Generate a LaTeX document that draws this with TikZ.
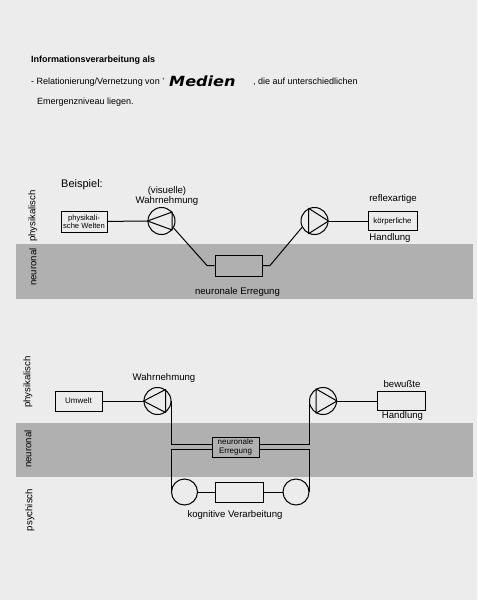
\documentclass[tikz,border=0pt]{standalone}
\usepackage{fontspec}
\setmainfont{Liberation Sans}
\newfontfamily\handfont{DejaVu Sans}
\usetikzlibrary{positioning}
\definecolor{paper}{RGB}{236,236,236}
\definecolor{bandgray}{RGB}{176,176,176}
\tikzset{
	wire/.style={line width=1pt},
	txt/.style={inner sep=0pt, font=\fontsize{9.6}{10.5}\selectfont},
	seite/.style={txt, rotate=90},
	kasten/.style={draw, line width=1pt, inner sep=0pt, minimum width=#1, minimum height=20pt, align=center},
	kasten/.default=47pt,
	amp/.style={draw, circle, line width=1pt, inner sep=0pt, minimum size=27pt},
	klein/.style={font=\fontsize{7.6}{8.2}\selectfont}
}
\def\dreieck(#1)(#2:#3){\draw[line width=1pt, line join=round] (#1.#2) -- (#1.#3) -- (#1.-#3) -- cycle;}

\begin{document}
\begin{tikzpicture}[x=1pt, y=-1pt]
			%%%%% START %%%%%
			\useasboundingbox (0,0) rectangle (477,600);
			\fill[paper] (0,0) rectangle (477,600);
			
			\node[txt, anchor=west, font=\bfseries\fontsize{9}{10}\selectfont] (titel) at (31,60) {Informationsverarbeitung als};
			\node[txt, anchor=west, font=\fontsize{9}{10}\selectfont] (zeile1) at (31,82) {- Relationierung/Vernetzung von '};
			\node[anchor=west, inner sep=0pt, font=\handfont\bfseries\itshape\fontsize{14}{14}\selectfont, xscale=1.15] (medien) at (169,81) {Medien};
			\node[txt, anchor=west, font=\fontsize{9}{10}\selectfont] (zeile1b) at (253,82) {, die auf unterschiedlichen};
			\node[txt, anchor=west, font=\fontsize{9}{10}\selectfont] (zeile2) at (37,102) {Emergenzniveau liegen.};
			
			% erstes Beispiel
			\fill[bandgray] (16,244) rectangle (473,299);
			\node[seite] (phys1) at (33,216) {physikalisch};
			\node[seite] (neur1) at (33,267) {neuronal};
			
			\node[txt, anchor=west, font=\fontsize{11}{12}\selectfont] (bsp) at (61,185) {Beispiel:};
			\node[txt, align=center] (wahr1) at (167,196) {(visuelle)\\Wahrnehmung};
			\node[kasten=46pt, minimum height=21pt, klein] (welt) at (84,221.5) {physikali-\\sche Welten};
			\node[amp] (c1) at (161.5,221) {};
			\node[amp] (c2) at (314.5,221) {};
			\node[kasten=49pt, minimum height=19pt, font=\fontsize{7.8}{8}\selectfont] (koerper) at (392.5,221) {körperliche};
			\node[txt] (reflex) at (393,199) {reflexartige};
			\node[txt] (hand1) at (390,238) {Handlung};
			\node[kasten=47pt, minimum height=21pt] (err1) at (238.5,265.5) {};
			\node[txt] (err1txt) at (237.5,292) {neuronale Erregung};
			\coordinate (k1) at (207,265.5);
			\coordinate (k2) at (270,265.5);
			
			\dreieck(c1)(180:40)
			\dreieck(c2)(0:115)
			\draw[wire] (welt) -- (c1);
			\draw[wire] (c1.-30) -- (k1) -- (err1);
			\draw[wire] (err1) -- (k2) -- (c2.207);
			\draw[wire] (c2) -- (koerper);
			
			% zweites Beispiel
			\fill[bandgray] (16,423) rectangle (473,477);
			\node[seite] (phys2) at (28,382) {physikalisch};
			\node[seite] (neur2) at (28,449) {neuronal};
			\node[seite] (psych) at (30,510) {psychisch};
			
			\node[kasten=47pt, font=\fontsize{8}{9}\selectfont] (umwelt) at (78.5,401) {Umwelt};
			\node[amp] (c3) at (157.5,401) {};
			\node[txt] (wahr2) at (164,378) {Wahrnehmung};
			\node[amp] (c4) at (323,401) {};
			\node[kasten=48pt, minimum height=19pt] (hand2box) at (401,401) {};
			\node[txt] (bewusst) at (402,384) {bewußte};
			\node[txt] (hand2) at (402.5,416) {Handlung};
			\node[kasten=47pt, font=\fontsize{8}{8.6}\selectfont] (err2) at (235.5,447) {neuronale\\Erregung};
			\node[amp, minimum size=26pt] (p1) at (184.5,492) {};
			\node[amp, minimum size=26pt] (p2) at (296,492) {};
			\node[kasten=48pt] (kog) at (239,492) {};
			\node[txt] (kogtxt) at (235,515) {kognitive Verarbeitung};
			
			\dreieck(c3)(180:55)
			\dreieck(c4)(0:120)
			\draw[wire] (umwelt) -- (c3);
			\draw[wire] (c3.east) |- ([yshift=2.5pt]err2.west);
			\draw[wire] ([yshift=-2.5pt]err2.west) -| (p1.west);
			\draw[wire] (c4.west) |- ([yshift=2.5pt]err2.east);
			\draw[wire] ([yshift=-2.5pt]err2.east) -| (p2.east);
			\draw[wire] (p1) -- (kog) -- (p2);
			\draw[wire] (c4) -- (hand2box);
			
			%%%%% END %%%%%
\end{tikzpicture}
\end{document}
